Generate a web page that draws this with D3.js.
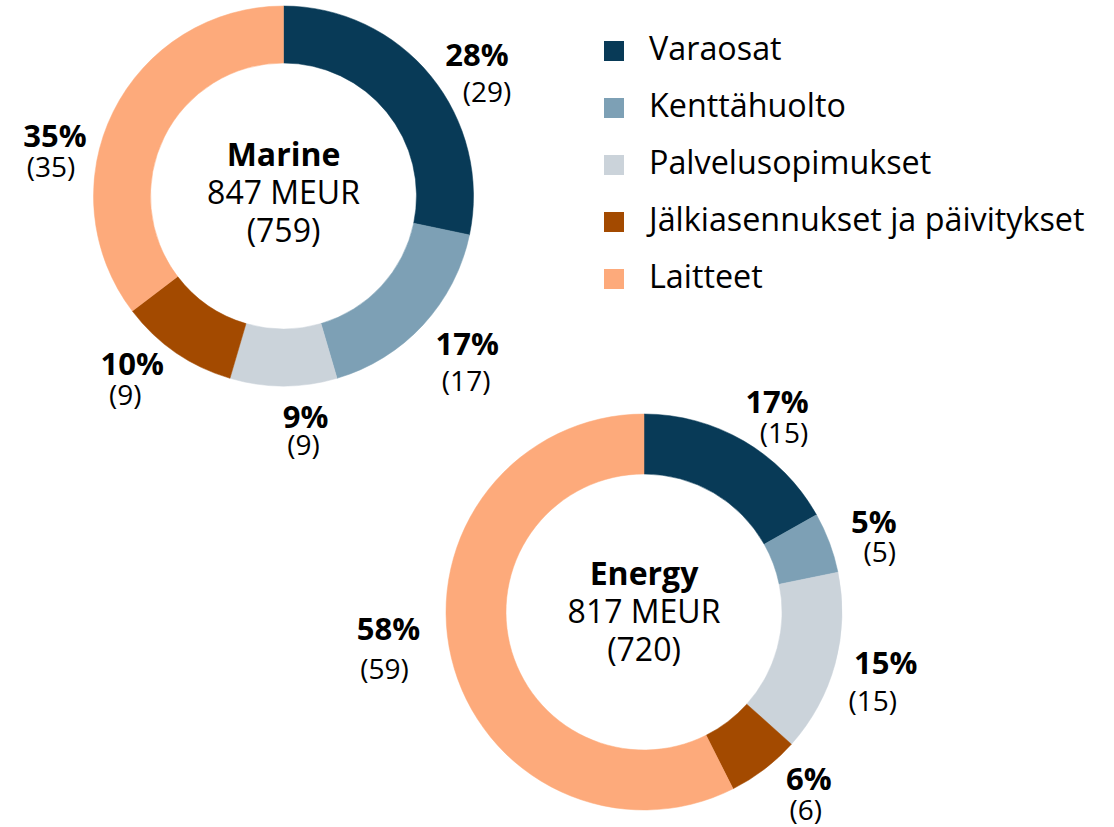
<!DOCTYPE html>
<html>
<head>
<meta charset="utf-8">
<script src="https://cdn.jsdelivr.net/npm/d3@7"></script>
<style>
  html, body { margin: 0; padding: 0; background: #fff; }
  svg { display: block; font-family: "Open Sans", "Noto Sans", sans-serif; }
</style>
</head>
<body>
<svg id="chart" width="1114" height="827"></svg>
<script>
// Service sales split by type, Marine and Energy
const categories = ["Varaosat", "Kenttähuolto", "Palvelusopimukset", "Jälkiasennukset ja päivitykset", "Laitteet"];
const colors = ["#083a57", "#7da0b5", "#cbd3da", "#a34a00", "#fdaa7b"];

const marineShare = [28, 17, 9, 10, 35];      // % this year
const marinePrev = [29, 17, 9, 9, 35];        // % previous year
const energyShare = [17, 5, 15, 6, 58];
const energyPrev = [15, 5, 15, 6, 59];

const marineTitle = ["Marine", "847 MEUR", "(759)"];
const energyTitle = ["Energy", "817 MEUR", "(720)"];

// Label placement: nudge from the slice centroid on the label ring, then
// offset of the previous-year line from the percentage line.
const marineLabelLayout = [
  { dx: 11, dy: 18, px: 10, py: 36 },
  { dx: 11, dy: 0, px: -1, py: 36 },
  { dx: 22, dy: -3, px: -2, py: 27 },
  { dx: -18, dy: -15, px: -7, py: 30 },
  { dx: -18, dy: 55, px: -4, py: 30 }
];
const energyLabelLayout = [
  { dx: 12, dy: 8, px: 7, py: 30 },
  { dx: 5, dy: 5, px: 6, py: 29 },
  { dx: 10, dy: -1, px: -13, py: 37 },
  { dx: 19, dy: -13, px: -3, py: 30 },
  { dx: -22, dy: -27, px: -4, py: 39 }
];

const svg = d3.select("#chart");
const color = d3.scaleOrdinal().domain(categories).range(colors);

function donut(cfg) {
  const g = svg.append("g").attr("transform", `translate(${cfg.cx},${cfg.cy})`);
  const rows = categories.map((c, i) => ({ cat: c, value: cfg.share[i], prev: cfg.prev[i], layout: cfg.layout[i] }));
  const pie = d3.pie().sort(null).value(d => d.value);
  const arcs = pie(rows);
  const arc = d3.arc().innerRadius(cfg.inner).outerRadius(cfg.outer);
  const labelArc = d3.arc().innerRadius(cfg.labelR).outerRadius(cfg.labelR);

  g.selectAll("path.slice")
    .data(arcs)
    .join("path")
    .attr("class", "slice")
    .attr("d", arc)
    .attr("fill", d => color(d.data.cat))
    .attr("stroke", d => color(d.data.cat))
    .attr("stroke-width", 0.5);

  const lab = g.selectAll("g.lab")
    .data(arcs)
    .join("g")
    .attr("class", "lab")
    .attr("transform", d => {
      const [x, y] = labelArc.centroid(d);
      return `translate(${x + d.data.layout.dx},${y + d.data.layout.dy})`;
    });
  lab.append("text")
    .attr("text-anchor", "middle")
    .attr("font-weight", 700)
    .attr("font-size", 31)
    .attr("fill", "#000")
    .text(d => d.data.value + "%");
  lab.append("text")
    .attr("text-anchor", "middle")
    .attr("font-size", 28)
    .attr("fill", "#000")
    .attr("x", d => d.data.layout.px)
    .attr("y", d => d.data.layout.py)
    .text(d => "(" + d.data.prev + ")");

  const t = g.append("text").attr("text-anchor", "middle").attr("fill", "#000").attr("font-size", 32);
  t.append("tspan").attr("x", 0).attr("y", cfg.titleY).attr("font-weight", 700).text(cfg.title[0]);
  t.append("tspan").attr("x", 0).attr("dy", 38).text(cfg.title[1]);
  t.append("tspan").attr("x", 0).attr("dy", 38).text(cfg.title[2]);
}

donut({ cx: 283.5, cy: 196, inner: 133, outer: 190, labelR: 235, share: marineShare, prev: marinePrev,
        layout: marineLabelLayout, title: marineTitle, titleY: -30 });
donut({ cx: 644, cy: 612, inner: 138, outer: 198, labelR: 240, share: energyShare, prev: energyPrev,
        layout: energyLabelLayout, title: energyTitle, titleY: -27 });

// Legend
const legend = svg.append("g").attr("transform", "translate(604,41)");
const item = legend.selectAll("g.item")
  .data(categories)
  .join("g")
  .attr("class", "item")
  .attr("transform", (d, i) => `translate(0,${i * 57})`);
item.append("rect")
  .attr("width", 20).attr("height", 20)
  .attr("fill", d => color(d));
item.append("text")
  .attr("x", 45).attr("y", 19)
  .attr("font-size", 32.3)
  .attr("fill", "#000")
  .text(d => d);
</script>
</body>
</html>
